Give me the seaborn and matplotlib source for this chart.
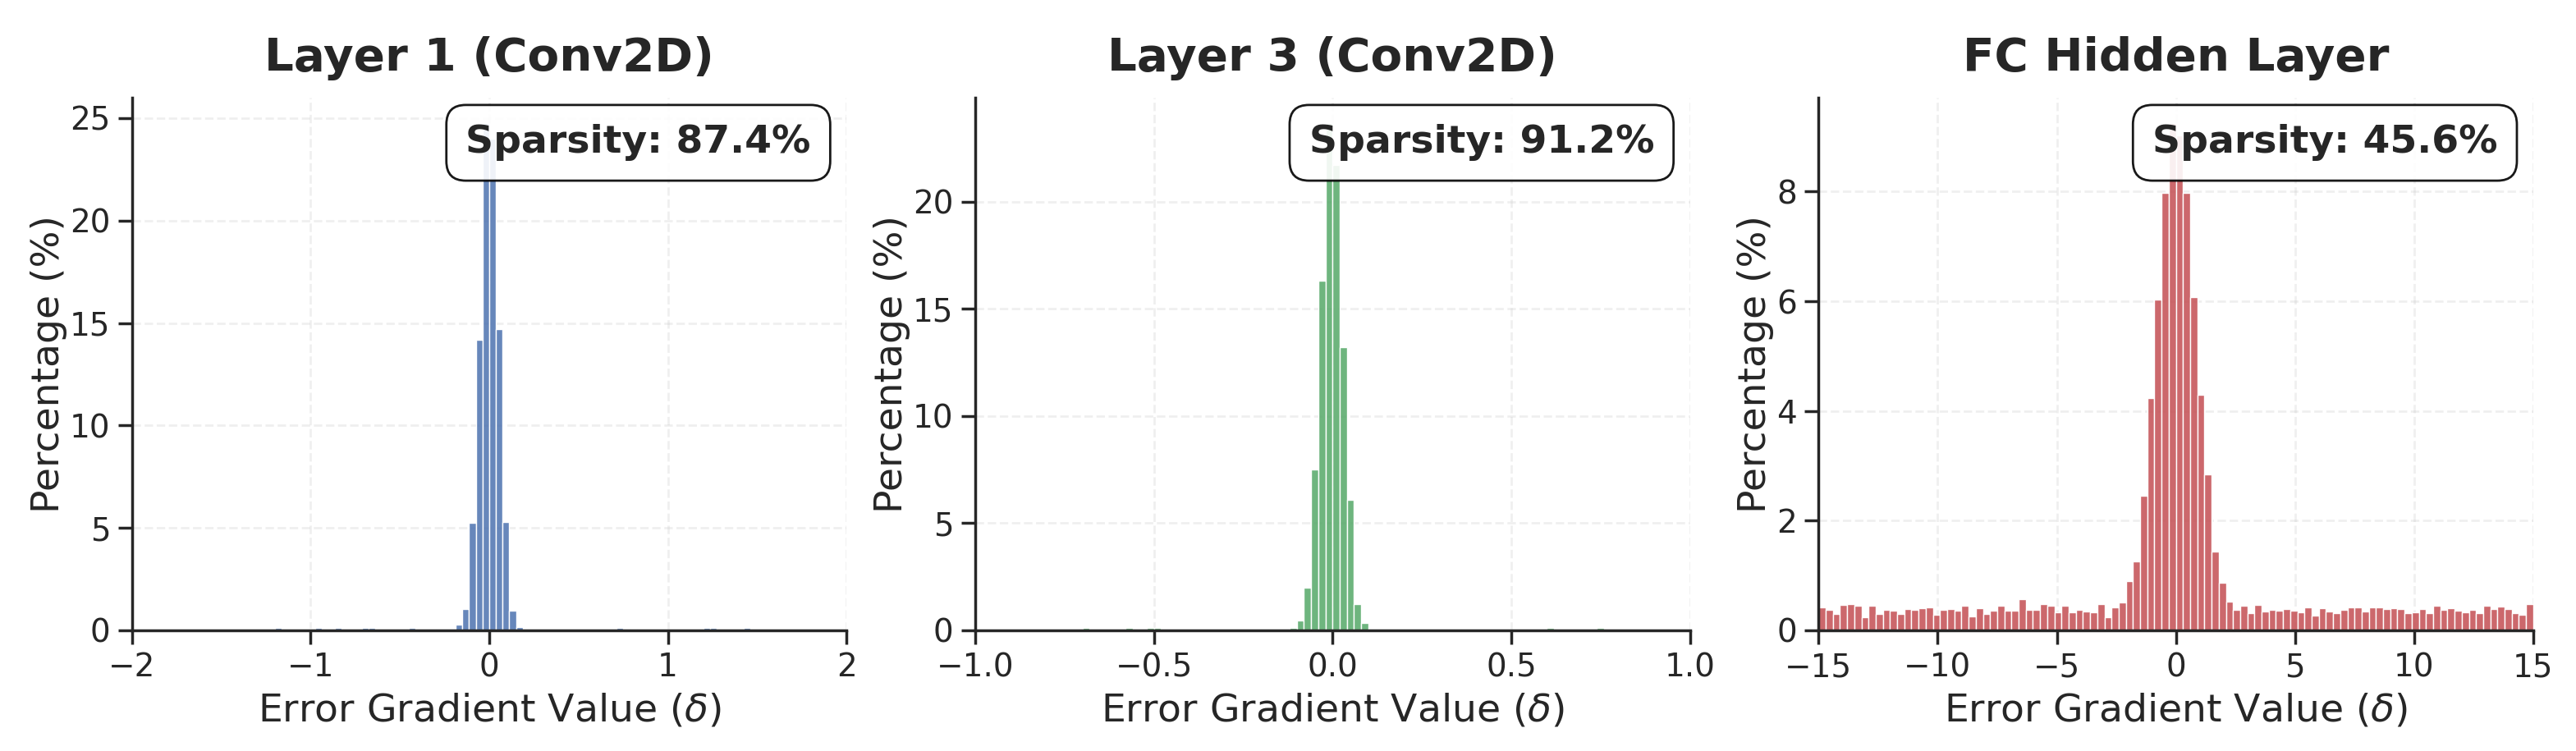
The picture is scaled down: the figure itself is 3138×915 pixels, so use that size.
import numpy as np
import pandas as pd
import seaborn as sns
import matplotlib.pyplot as plt

# --- data: percentage of gradients per histogram bin ---
titles = ['Layer 1 (Conv2D)', 'Layer 3 (Conv2D)', 'FC Hidden Layer']
sparsity = [87.4, 91.2, 45.6]
bin_ranges = [(-1.5, 1.5), (-0.8, 0.8), (-15.0, 15.0)]
x_limits = [(-2, 2), (-1, 1), (-15, 15)]
colors = ['#4c72b0', '#55a868', '#c44e52']

# Layer 1: 80 bins over [-1.5, 1.5]
layer1_pct = [0.04, 0.04, 0.0, 0.03, 0.04, 0.04, 0.04, 0.04, 0.12, 0.04,
              0.04, 0.04, 0.04, 0.08, 0.13, 0.04, 0.05, 0.12, 0.04, 0.04,
              0.04, 0.12, 0.12, 0.04, 0.04, 0.04, 0.04, 0.04, 0.12, 0.05,
              0.05, 0.08, 0.04, 0.04, 0.02, 0.27, 1.05, 5.24, 14.2, 24.76,
              24.0, 14.7, 5.29, 0.95, 0.16, 0.04, 0.04, 0.0, 0.03, 0.0,
              0.04, 0.04, 0.0, 0.05, 0.05, 0.05, 0.05, 0.05, 0.0, 0.12,
              0.02, 0.08, 0.0, 0.04, 0.04, 0.04, 0.04, 0.04, 0.04, 0.04,
              0.04, 0.0, 0.1, 0.13, 0.08, 0.08, 0.0, 0.03, 0.1, 0.0]

# Layer 3: 80 bins over [-0.8, 0.8]
layer3_pct = [0.05, 0.05, 0.0, 0.05, 0.0, 0.12, 0.0, 0.0, 0.05, 0.05,
              0.05, 0.12, 0.05, 0.05, 0.12, 0.12, 0.0, 0.0, 0.05, 0.0,
              0.0, 0.0, 0.0, 0.0, 0.05, 0.0, 0.07, 0.05, 0.0, 0.05,
              0.09, 0.0, 0.0, 0.02, 0.1, 0.46, 2.0, 7.5, 16.3, 23.66,
              21.7, 13.2, 6.1, 1.22, 0.35, 0.08, 0.05, 0.05, 0.0, 0.07,
              0.0, 0.05, 0.0, 0.0, 0.0, 0.0, 0.0, 0.07, 0.07, 0.0,
              0.05, 0.05, 0.0, 0.05, 0.0, 0.0, 0.0, 0.05, 0.05, 0.0,
              0.12, 0.0, 0.0, 0.0, 0.0, 0.0, 0.0, 0.12, 0.05, 0.0]

# FC hidden: 100 bins over [-15, 15]
fc_pct = [0.42, 0.38, 0.30, 0.47, 0.48, 0.45, 0.24, 0.45, 0.30, 0.38,
          0.36, 0.30, 0.39, 0.38, 0.41, 0.42, 0.29, 0.38, 0.39, 0.36,
          0.45, 0.26, 0.41, 0.30, 0.36, 0.45, 0.36, 0.36, 0.57, 0.38,
          0.38, 0.48, 0.45, 0.33, 0.45, 0.33, 0.38, 0.35, 0.33, 0.48,
          0.24, 0.42, 0.51, 0.89, 1.26, 2.45, 4.23, 6.03, 7.98, 9.25,
          9.02, 7.97, 6.07, 4.29, 2.84, 1.44, 0.87, 0.52, 0.37, 0.45,
          0.31, 0.46, 0.34, 0.37, 0.36, 0.39, 0.36, 0.33, 0.42, 0.27,
          0.41, 0.35, 0.32, 0.38, 0.42, 0.42, 0.35, 0.42, 0.42, 0.39,
          0.41, 0.39, 0.32, 0.33, 0.39, 0.32, 0.45, 0.38, 0.41, 0.36,
          0.33, 0.38, 0.32, 0.45, 0.39, 0.44, 0.39, 0.32, 0.29, 0.48]

all_pct = [layer1_pct, layer3_pct, fc_pct]

sns.set_theme(style='ticks')
plt.rcParams['font.family'] = ['DejaVu Sans']

fig, axes = plt.subplots(1, 3, figsize=(15.69, 4.575), dpi=200)
fig.subplots_adjust(left=0.0512, right=0.9834, bottom=0.1607, top=0.8699, wspace=0.18)

for ax, title, sp, (lo, hi), xl, col, pct in zip(axes, titles, sparsity, bin_ranges,
                                                 x_limits, colors, all_pct):
    n = len(pct)
    edges = np.linspace(lo, hi, n + 1)
    df = pd.DataFrame({'delta': (edges[:-1] + edges[1:]) / 2, 'pct': pct})
    sns.histplot(data=df, x='delta', weights='pct', bins=n, binrange=(lo, hi),
                 color=col, alpha=0.85, edgecolor='white', linewidth=0.5, ax=ax)
    ax.set_xlim(xl)
    ax.set_title(title, fontsize=20.3, fontweight='bold', pad=12)
    ax.set_xlabel('Error Gradient Value ($\\delta$)', fontsize=17)
    ax.set_ylabel('Percentage (%)', fontsize=17, labelpad=1)
    ax.tick_params(labelsize=14)
    ax.grid(True, linestyle='--', alpha=0.3)
    ax.set_axisbelow(True)
    ax.text(0.95, 0.95, f'Sparsity: {sp}%', transform=ax.transAxes,
            ha='right', va='top', fontsize=17, fontweight='bold',
            bbox=dict(boxstyle='round,pad=0.5', facecolor='white',
                      edgecolor='black', alpha=0.9))
    sns.despine(ax=ax)

fig.savefig('out.png', dpi=200)
